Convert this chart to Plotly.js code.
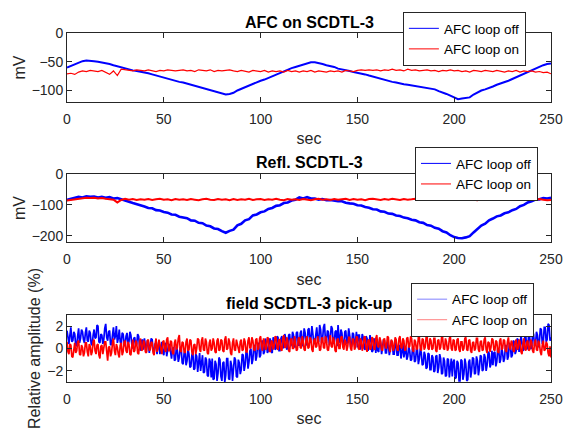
<!DOCTYPE html>
<html>
<head>
<meta charset="utf-8">
<script src="https://cdn.plot.ly/plotly-3.0.1.min.js"></script>
<style>html,body{margin:0;padding:0;background:#fff;}#chart{width:565px;height:428px;}</style>
</head>
<body>
<div id="chart"></div>
<script>
// ---------- DATA ----------
var seriesNames = ["AFC loop off", "AFC loop on"];
var panelTitles = ["AFC on SCDTL-3", "Refl. SCDTL-3", "field SCDTL-3 pick-up"];
var xLabel = "sec";
var yLabels = ["mV", "mV", "Relative amplitude (%)"];

// Panels 1 & 2 sampled every 2 s from 0 to 250 s
var step12 = 2;
// Panel 3 sampled every 0.5 s from 0 to 250 s
var step3 = 0.5;

// Panel 1: AFC on SCDTL-3 (mV)
var afcOff = [
 -60,-57,-54,-51,-49,-48,-48,-49,-50,-51,
 -53,-54,-56,-58,-60,-62,-64,-65,-66,-67,
 -68,-70,-72,-74,-76,-78,-79,-81,-83,-85,
 -86,-88,-90,-92,-94,-95,-97,-99,-101,-103,
 -105,-107,-106,-104,-100,-97,-94,-91,-88,-85,
 -83,-81,-78,-75,-72,-69,-66,-63,-61,-59,
 -57,-54,-52,-51,-51,-52,-54,-56,-57,-59,
 -62,-63,-65,-66,-68,-69,-71,-72,-74,-76,
 -78,-80,-81,-83,-85,-86,-88,-89,-90,-91,
 -93,-94,-95,-96,-97,-98,-101,-103,-106,-109,
 -112,-115,-114,-113,-112,-107,-103,-100,-98,-96,
 -93,-90,-88,-86,-83,-80,-77,-74,-71,-68,
 -65,-61,-58,-56,-54,-53
];
var afcOn = [
 -71,-70,-72,-68,-66,-67,-65,-66,-67,-65,
 -68,-72,-66,-74,-63,-64,-65,-66,-64,-65,
 -66,-64,-65,-67,-65,-66,-64,-65,-66,-65,
 -64,-66,-65,-67,-64,-65,-66,-64,-67,-65,
 -66,-65,-64,-66,-67,-65,-66,-68,-65,-66,
 -67,-65,-68,-66,-67,-66,-68,-65,-67,-66,
 -68,-66,-67,-65,-68,-66,-67,-68,-66,-67,
 -66,-68,-65,-66,-67,-65,-64,-65,-64,-65,
 -64,-66,-64,-65,-63,-65,-64,-66,-63,-65,
 -64,-66,-65,-64,-66,-65,-67,-65,-66,-64,
 -66,-65,-67,-66,-68,-65,-66,-67,-65,-66,
 -67,-65,-66,-68,-66,-67,-65,-68,-66,-67,
 -66,-68,-67,-69,-68,-71
];

// Panel 2: Refl. SCDTL-3 (mV)
var reflOff = [
 -84,-80,-78,-74,-76,-72,-74,-73,-76,-74,
 -77,-75,-79,-78,-82,-87,-90,-94,-97,-102,
 -105,-110,-111,-117,-118,-123,-125,-131,-132,-138,
 -141,-143,-150,-151,-158,-159,-167,-169,-176,-178,
 -185,-190,-184,-180,-166,-161,-150,-146,-134,-131,
 -124,-121,-113,-110,-103,-101,-94,-92,-86,-83,
 -76,-79,-75,-79,-79,-83,-81,-85,-84,-87,
 -88,-88,-93,-95,-96,-101,-102,-107,-109,-114,
 -115,-121,-122,-128,-129,-134,-136,-141,-143,-148,
 -150,-156,-158,-165,-167,-174,-177,-185,-189,-198,
 -204,-207,-208,-205,-201,-189,-179,-167,-161,-150,
 -144,-137,-134,-127,-124,-117,-113,-104,-100,-92,
 -88,-83,-82,-78,-79,-77
];
var reflOn = [
 -86,-84,-82,-80,-79,-77,-78,-77,-79,-78,
 -80,-81,-83,-92,-84,-80,-83,-81,-84,-82,
 -83,-81,-84,-82,-80,-83,-82,-85,-81,-83,
 -82,-84,-81,-83,-85,-82,-80,-83,-84,-81,
 -83,-82,-85,-81,-84,-82,-83,-80,-84,-82,
 -81,-84,-82,-83,-80,-83,-85,-81,-83,-82,
 -84,-81,-83,-85,-82,-80,-83,-82,-84,-81,
 -83,-82,-80,-84,-81,-83,-82,-85,-81,-80,
 -82,-84,-81,-83,-80,-82,-84,-81,-83,-82,
 -80,-83,-81,-84,-82,-80,-83,-81,-84,-82,
 -83,-81,-84,-82,-80,-83,-85,-82,-81,-84,
 -82,-80,-83,-81,-84,-82,-83,-81,-80,-83,
 -82,-84,-81,-83,-85,-84
];

// Panel 3: field SCDTL-3 pick-up (relative amplitude, %), 0.5 s samples
var pickOff = [
 1.6,0.9,0.4,1.2,1.9,0.6,0.7,1.5,1.3,0.3,
 0.2,1.1,1.8,0.5,0.9,1.7,1.5,0.8,0.5,1.4,
 1.9,0.7,0.6,1.6,1.4,0.4,0.3,1.2,1.7,0.9,
 1.0,2.1,2.0,0.6,0.5,1.3,1.2,0.4,0.8,1.8,
 2.2,1.0,0.7,1.5,1.6,0.3,0.4,1.2,1.9,0.8,
 1.1,2.0,0.5,0.9,1.7,0.6,0.3,1.4,1.3,0.5,
 0.2,1.1,1.4,0.4,0.6,1.5,1.2,0.3,0.0,0.9,
 1.0,0.2,0.4,1.3,1.1,0.1,-0.2,0.7,0.8,-0.1,
 0.9,0.2,-0.3,0.7,0.6,-0.4,0.1,0.9,0.8,-0.2,
 -0.4,0.4,0.5,-0.5,0.2,0.7,-0.5,0.1,0.6,-0.3,
 -0.6,0.3,0.5,-0.7,-0.2,0.4,0.3,-0.5,-0.9,0.0,
 0.1,-1.1,-1.0,0.2,-0.2,-1.2,-0.8,0.1,0.0,-1.3,
 -1.4,-0.4,-0.2,-1.5,-1.1,0.0,-0.5,-1.7,-1.6,-0.6,
 -0.3,-1.9,-1.8,-0.5,-0.7,-2.1,-1.3,-0.4,-2.0,-1.0,
 -0.6,-2.2,-2.1,-0.8,-1.0,-2.4,-2.5,-0.9,-1.2,-2.6,
 -0.9,-2.8,-2.7,-1.1,-1.4,-2.9,-2.2,-0.8,-1.0,-2.5,
 -2.9,-1.3,-1.2,-3.0,-2.4,-0.9,-0.9,-2.7,-2.8,-1.1,
 -1.5,-2.9,-2.1,-0.8,-1.0,-2.5,-2.6,-1.0,-1.3,-2.3,
 -1.9,-0.5,-0.6,-2.0,-1.5,-0.3,-0.4,-1.8,-1.2,-0.2,
 0.0,-1.4,-1.0,0.3,0.2,-1.1,-0.7,0.5,0.4,-0.8,
 -0.6,0.6,0.7,-0.5,-0.3,0.9,0.5,-0.4,-0.2,0.8,
 0.9,-0.3,-0.4,1.0,0.8,-0.1,0.0,1.1,1.0,-0.2,
 -0.2,0.9,1.1,0.0,0.3,1.3,0.9,-0.1,0.1,1.2,
 1.3,0.2,0.4,1.5,1.2,0.1,0.2,1.4,1.5,0.3,
 0.3,1.4,1.6,0.2,0.6,1.8,1.4,0.3,0.4,1.7,
 1.8,0.5,0.9,2.0,1.3,0.4,0.5,1.6,1.9,0.7,
 0.6,2.1,1.7,0.5,0.8,1.9,2.2,0.7,0.5,1.6,
 1.5,0.3,0.9,2.0,1.8,0.6,0.4,1.5,1.6,0.2,
 2.1,1.0,0.5,1.7,1.4,0.2,0.3,1.5,1.6,0.4,
 0.7,1.8,1.2,0.1,0.2,1.4,1.3,0.3,0.6,1.5,
 0.1,1.2,1.2,-0.1,0.4,1.3,1.0,0.0,-0.1,1.1,
 0.9,-0.2,0.3,1.2,0.8,-0.3,-0.2,0.9,0.7,-0.4,
 0.8,-0.2,-0.3,0.9,0.5,-0.5,0.0,0.8,0.7,-0.4,
 -0.4,0.6,0.3,-0.6,-0.1,0.7,0.6,-0.5,-0.5,0.5,
 0.4,-0.6,-0.6,0.3,0.2,-0.9,-0.3,0.5,-0.8,-0.2,
 0.1,-1.0,-0.7,0.2,-0.2,-1.1,-1.0,0.1,0.0,-1.2,
 -1.1,-0.1,-0.1,-1.4,-0.9,0.0,-0.4,-1.5,-1.4,-0.3,
 -0.6,-1.8,-1.7,-0.4,-0.5,-1.9,-1.9,-0.6,-0.8,-2.1,
 -2.0,-0.7,-0.6,-2.2,-1.7,-0.5,-0.9,-2.3,-2.2,-0.8,
 -1.1,-2.5,-2.4,-0.9,-1.0,-2.6,-1.8,-0.9,-2.5,-1.2,
 -1.0,-2.7,-2.6,-1.1,-1.3,-2.9,-2.9,-1.0,-1.1,-2.8,
 -2.3,-0.9,-1.4,-2.9,-2.8,-1.2,-1.0,-2.6,-2.0,-0.8,
 -0.9,-2.3,-2.2,-0.7,-1.1,-2.4,-1.8,-0.6,-0.7,-2.0,
 -1.9,-0.5,-0.8,-2.0,-1.5,-0.3,-0.4,-1.7,-1.4,-0.2,
 -1.5,-0.4,-0.3,-1.6,-1.2,0.0,-0.1,-1.3,-1.0,0.1,
 -0.4,-1.2,-0.9,0.3,0.2,-1.0,-0.7,0.5,0.3,-0.8,
 -0.6,0.7,0.6,-0.5,-0.2,0.9,0.8,-0.3,0.1,1.2,
 0.5,-0.2,-0.1,1.1,1.1,-0.1,0.2,1.3,1.0,0.0,
 0.0,1.4,1.3,0.2,0.4,1.5,1.2,0.1,0.6,1.8,
 1.7,0.4,0.5,1.9,1.9,0.6,0.8,2.2,2.1,0.7,
 1.0
];
var pickOn = [
 0.6,-0.3,-0.5,0.4,0.3,-0.7,-0.8,0.2,0.5,-0.4,
 -0.2,0.6,0.7,-0.5,-0.6,0.3,0.1,-0.7,-0.4,0.5,
 0.5,-0.3,-0.7,0.4,0.2,-0.6,-0.3,0.6,0.8,-0.2,
 -0.5,0.3,0.4,-0.6,-0.9,0.2,0.3,-0.5,-0.1,0.6,
 0.6,-0.4,-1.1,0.1,0.2,-0.7,-0.4,0.5,0.9,-0.2,
 -0.6,0.4,0.1,-0.5,-0.8,0.3,0.5,-0.6,-0.3,0.6,
 0.7,-0.2,-0.4,0.6,0.4,-0.5,-0.6,0.3,0.8,-0.3,
 -0.2,0.7,0.5,-0.4,-0.5,0.6,0.9,-0.2,-0.1,0.7,
 0.6,-0.3,-0.4,0.7,0.8,-0.2,-0.1,0.6,0.5,-0.4,
 -0.6,0.4,0.9,-0.3,0.0,0.8,0.4,-0.2,-0.5,0.6,
 0.7,-0.1,-0.3,0.8,1.0,-0.2,-0.2,0.7,0.6,-0.4,
 -0.5,0.5,0.8,-0.1,0.1,0.9,1.2,-0.2,-0.3,0.6,
 0.5,-0.3,-0.4,0.6,0.9,-0.2,-0.1,0.8,0.7,-0.3,
 -0.6,0.3,0.4,-0.5,0.0,0.9,0.8,-0.1,-0.3,0.7,
 1.0,-0.1,-0.2,0.9,0.6,-0.4,-0.5,0.5,0.8,-0.2,
 0.0,0.9,0.5,-0.3,-0.4,0.7,0.9,-0.2,-0.1,0.8,
 0.7,-0.2,-0.3,0.8,1.1,-0.1,0.0,0.9,0.6,-0.4,
 -0.6,0.5,0.9,-0.1,-0.2,0.8,0.4,-0.3,-0.4,0.6,
 0.8,-0.2,-0.1,0.9,0.6,-0.3,-0.3,0.7,1.0,0.0,
 0.1,1.0,0.7,-0.1,-0.2,0.8,0.9,-0.1,0.0,0.9,
 1.1,0.1,-0.2,0.9,0.7,-0.1,0.0,1.0,0.9,-0.2,
 -0.3,0.7,0.6,-0.1,0.2,1.1,1.0,0.0,-0.1,0.8,
 0.8,-0.1,-0.2,0.9,1.2,0.1,0.1,1.0,0.7,-0.2,
 -0.3,0.8,0.9,0.0,0.0,1.1,0.6,-0.2,-0.1,0.9,
 1.0,0.1,0.0,1.1,0.7,-0.1,-0.2,0.9,1.1,0.0,
 0.1,1.0,0.8,-0.1,-0.3,0.7,0.9,0.1,0.2,1.1,
 0.6,-0.2,-0.1,0.9,1.0,0.1,0.0,1.1,0.8,-0.1,
 -0.2,0.8,1.2,0.2,0.1,1.0,0.7,-0.2,-0.3,0.8,
 0.9,0.0,0.0,1.0,1.1,0.1,-0.1,0.8,0.6,-0.2,
 0.2,1.0,1.0,0.0,-0.2,0.9,0.8,-0.1,0.1,1.1,
 1.0,0.0,-0.1,0.9,0.7,-0.2,0.2,1.0,1.1,0.0,
 -0.3,0.7,0.8,-0.1,0.0,1.0,0.9,0.0,-0.1,0.9,
 1.2,0.2,0.1,1.0,0.7,-0.1,-0.2,0.8,0.9,0.1,
 0.0,1.1,1.0,-0.1,-0.3,0.8,0.6,-0.2,0.1,1.0,
 0.8,-0.1,-0.2,0.9,1.1,0.1,0.0,0.9,0.7,-0.2,
 -0.1,0.9,1.0,0.1,0.2,1.1,0.9,-0.1,-0.3,0.8,
 0.6,-0.1,0.0,1.0,1.0,0.0,-0.2,0.9,0.8,-0.1,
 0.1,1.0,1.1,0.0,-0.1,0.9,0.7,-0.1,0.0,0.9,
 0.9,-0.2,-0.3,0.7,0.8,-0.1,0.1,1.0,1.0,0.0,
 -0.1,0.9,0.6,-0.2,0.0,0.9,1.1,0.0,-0.2,0.8,
 0.7,-0.2,-0.1,0.8,0.9,-0.1,-0.3,0.6,0.6,-0.2,
 0.0,0.9,1.0,-0.1,-0.2,0.7,0.8,-0.2,-0.4,0.5,
 0.6,-0.2,0.0,0.9,0.9,-0.1,-0.3,0.6,0.7,-0.2,
 -0.1,0.8,1.0,-0.1,-0.4,0.6,0.5,-0.3,0.1,0.9,
 0.8,-0.1,-0.2,0.7,0.6,-0.3,-0.4,0.7,0.9,-0.1,
 0.0,0.8,0.7,-0.2,-0.3,0.6,1.0,0.1,-0.1,0.7,
 0.5,-0.2,-0.3,0.6,0.8,-0.1,0.0,0.8,0.6,-0.3,
 -0.5,0.4,0.9,0.0,-0.2,0.6,0.7,-0.2,-0.1,0.8,
 0.6,-0.2,-0.4,0.5,0.8,-0.1,-0.2,0.7,0.5,-0.3,
 -0.6,0.3,0.7,-0.2,-0.1,0.6,0.4,-0.4,-0.7,0.2,
 -0.8
];

var xRange = [0, 250];
var xTickStep = 50;
var yRanges = [[-120, 0], [-220, 0], [-3, 3]];
var yTickSteps = [50, 100, 2];

// ---------- STYLE ----------
var FONT = "Liberation Sans, Arial, Helvetica, sans-serif";
var AX = "#262626";
var BLUE = "#0000ff", RED = "#ff0000";
var BLUE_L = "#8080ff", RED_L = "#ff8080";

function dataTrace(y, dx, xa, ya, name, color, width) {
  return {x0: 0, dx: dx, y: y, xaxis: xa, yaxis: ya, name: name, showlegend: false,
          mode: "lines", line: {color: color, width: width}};
}
function legendTrace(xa, ya, leg, name, color) {
  return {x: [null], y: [null], xaxis: xa, yaxis: ya, legend: leg, name: name,
          mode: "lines", line: {color: color, width: 1}};
}

var traces = [
  dataTrace(afcOff, step12, "x", "y", seriesNames[0], BLUE, 2),
  dataTrace(afcOn, step12, "x", "y", seriesNames[1], RED, 1.2),
  dataTrace(reflOff, step12, "x2", "y2", seriesNames[0], BLUE, 2.6),
  dataTrace(reflOn, step12, "x2", "y2", seriesNames[1], RED, 2),
  dataTrace(pickOff, step3, "x3", "y3", seriesNames[0], BLUE, 1.7),
  dataTrace(pickOn, step3, "x3", "y3", seriesNames[1], RED, 1.7),
  legendTrace("x", "y", "legend", seriesNames[0], BLUE),
  legendTrace("x", "y", "legend", seriesNames[1], RED),
  legendTrace("x2", "y2", "legend2", seriesNames[0], BLUE),
  legendTrace("x2", "y2", "legend2", seriesNames[1], RED),
  legendTrace("x3", "y3", "legend3", seriesNames[0], BLUE_L),
  legendTrace("x3", "y3", "legend3", seriesNames[1], RED_L)
];

var yDomains = [[0.8023, 1], [0.4011, 0.596], [0, 0.192]];

function xAxis(anchor) {
  return {
    anchor: anchor, domain: [0, 1], range: xRange, dtick: xTickStep, tick0: 0,
    showline: true, linecolor: AX, linewidth: 1, mirror: "ticks",
    ticks: "inside", ticklen: 5, tickcolor: AX, tickwidth: 1,
    showgrid: false, zeroline: false, ticklabelstandoff: 4,
    tickfont: {family: FONT, size: 14, color: AX},
    title: {text: xLabel, font: {family: FONT, size: 16, color: AX}, standoff: 7}
  };
}
function yAxis(anchor, i) {
  return {
    anchor: anchor, domain: yDomains[i], range: yRanges[i], dtick: yTickSteps[i], tick0: 0,
    showline: true, linecolor: AX, linewidth: 1, mirror: "ticks",
    ticks: "inside", ticklen: 5, tickcolor: AX, tickwidth: 1,
    showgrid: false, zeroline: false,
    tickfont: {family: FONT, size: 14, color: AX},
    title: {text: yLabels[i], font: {family: FONT, size: 16, color: AX}, standoff: 2}
  };
}
function legendAt(x, y) {
  return {
    x: x, y: y, xanchor: "left", yanchor: "top", xref: "paper", yref: "paper",
    bgcolor: "#ffffff", bordercolor: AX, borderwidth: 1,
    font: {family: FONT, size: 13.5, color: "#000"}, traceorder: "normal"
  };
}

var annotations = panelTitles.map(function (t, i) {
  return {
    text: t, xref: "paper", yref: "paper", x: 0.5, y: yDomains[i][1],
    xanchor: "center", yanchor: "middle", yshift: 11, showarrow: false,
    font: {family: FONT, size: 16, color: "#000", weight: "bold"}
  };
});

var layout = {
  width: 565, height: 428,
  margin: {l: 67, r: 14, t: 33, b: 46, pad: 0},
  paper_bgcolor: "#ffffff", plot_bgcolor: "#ffffff",
  showlegend: true,
  xaxis: xAxis("y"), yaxis: yAxis("x", 0),
  xaxis2: xAxis("y2"), yaxis2: yAxis("x2", 1),
  xaxis3: xAxis("y3"), yaxis3: yAxis("x3", 2),
  legend: legendAt(0.694, 1.060),
  legend2: legendAt(0.719, 0.673),
  legend3: legendAt(0.711, 0.284),
  annotations: annotations
};

Plotly.newPlot("chart", traces, layout, {staticPlot: true, displayModeBar: false});
</script>
</body>
</html>
